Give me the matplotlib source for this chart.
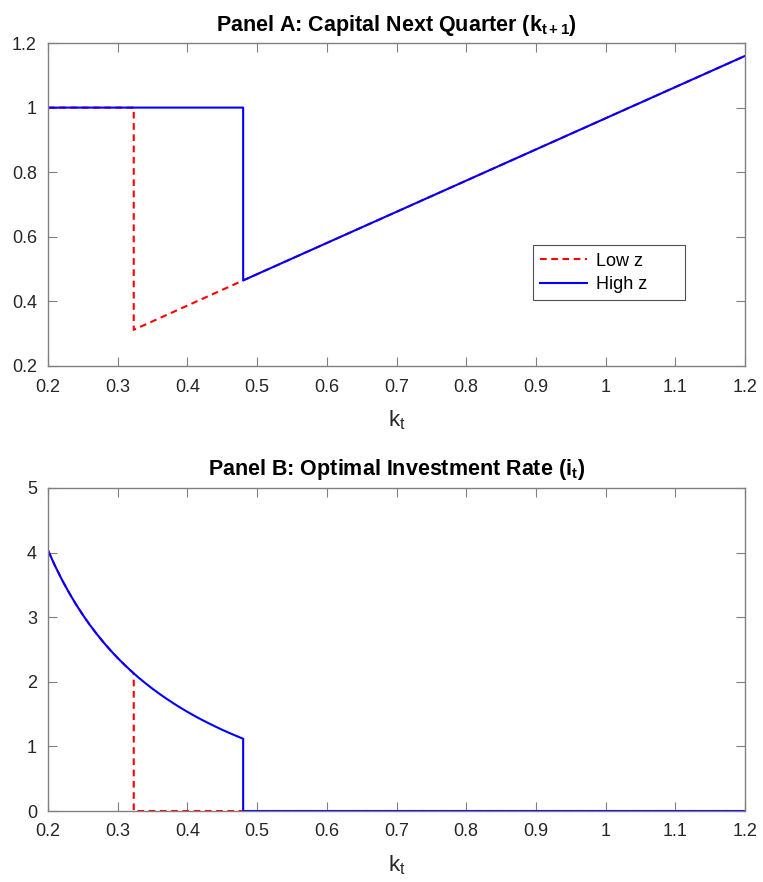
import matplotlib
matplotlib.use("Agg")
import matplotlib.pyplot as plt

plt.rcParams['font.family'] = ['Liberation Sans', 'DejaVu Sans']
plt.rcParams['mathtext.fontset'] = 'custom'
plt.rcParams['mathtext.rm'] = 'Liberation Sans'
plt.rcParams['mathtext.it'] = 'Liberation Sans'
plt.rcParams['mathtext.bf'] = 'Liberation Sans:bold'

# Panel A: next-quarter capital
kA_low = [0.2, 0.323, 0.323, 0.48, 1.2]
kp_low = [1.0, 1.0, 0.312, 0.465, 1.16]
kA_high = [0.2, 0.48, 0.48, 1.2]
kp_high = [1.0, 1.0, 0.465, 1.16]

# Panel B: investment rate
k_curve = [0.20, 0.21, 0.22, 0.23, 0.24, 0.25, 0.26, 0.27, 0.28, 0.29,
           0.30, 0.31, 0.32, 0.323]
i_curve = [4.035, 3.797, 3.580, 3.383, 3.202, 3.035, 2.881, 2.739, 2.606, 2.483,
           2.368, 2.261, 2.160, 2.131]
k_curve_hi = [0.33, 0.34, 0.35, 0.36, 0.37, 0.38, 0.39, 0.40, 0.41, 0.42,
              0.43, 0.44, 0.45, 0.46, 0.47, 0.48]
i_curve_hi = [2.065, 1.976, 1.892, 1.813, 1.738, 1.667, 1.599, 1.535, 1.474, 1.416,
              1.361, 1.308, 1.257, 1.209, 1.163, 1.118]

kB_low = k_curve + [0.323, 1.2]
iB_low = i_curve + [0.0, 0.0]
kB_high = k_curve + k_curve_hi + [0.48, 1.2]
iB_high = i_curve + i_curve_hi + [0.0, 0.0]

xticks = [0.2, 0.3, 0.4, 0.5, 0.6, 0.7, 0.8, 0.9, 1.0, 1.1, 1.2]
xticklabels = ['0.2', '0.3', '0.4', '0.5', '0.6', '0.7', '0.8', '0.9', '1', '1.1', '1.2']
yticksA = [0.2, 0.4, 0.6, 0.8, 1.0, 1.2]
yticklabelsA = ['0.2', '0.4', '0.6', '0.8', '1', '1.2']
yticksB = [0, 1, 2, 3, 4, 5]

W, H = 763, 882
fig = plt.figure(figsize=(W / 100, H / 100), dpi=100)
axA = fig.add_axes([48 / W, 1 - 366 / H, 697 / W, 323 / H])
axB = fig.add_axes([48 / W, 1 - 811 / H, 697 / W, 323 / H])

axcol = '#808080'
txtcol = '#262626'

def style(ax):
    for s in ax.spines.values():
        s.set_color(axcol)
        s.set_linewidth(1.0)
    ax.tick_params(direction='in', top=True, right=True, length=6.5, width=0.8,
                   color=axcol, labelcolor=txtcol, labelsize=13)
    ax.tick_params(axis='x', pad=9)
    ax.tick_params(axis='y', pad=8)
    ax.set_xlim(0.2, 1.2)
    ax.set_xticks(xticks)
    ax.set_xticklabels(xticklabels)
    ax.set_xlabel(r'k$_{\rm t}$', fontsize=16, color=txtcol, labelpad=9)

axA.plot(kA_low, kp_low, color='#ff0000', linestyle=(0, (3.2, 2.2)), linewidth=1.5, label='Low z')
axA.plot(kA_high, kp_high, color='#0000ff', linewidth=1.5, label='High z')
style(axA)
axA.set_ylim(0.2, 1.2)
axA.set_yticks(yticksA)
axA.set_yticklabels(yticklabelsA)
axA.set_title(r'Panel A: Capital Next Quarter (k$_{\mathbf{t+1}}$)', fontsize=15.5,
              fontweight='bold', color='black', pad=9)
leg = axA.legend(loc='lower left', bbox_to_anchor=(0.696, 0.204, 0.218, 0.166),
                 mode='expand', borderaxespad=0, fontsize=13, frameon=True, fancybox=False,
                 edgecolor='#262626', handlelength=2.6, borderpad=0.4,
                 labelspacing=0.35, handletextpad=0.5)
leg.get_frame().set_linewidth(0.8)

axB.plot(kB_low, iB_low, color='#ff0000', linestyle=(0, (3.2, 2.2)), linewidth=1.5)
axB.plot(kB_high, iB_high, color='#0000ff', linewidth=1.5)
style(axB)
axB.set_ylim(0, 5)
axB.set_yticks(yticksB)
axB.set_title(r'Panel B: Optimal Investment Rate (i$_{\mathbf{t}}$)', fontsize=15.5,
              fontweight='bold', color='black', pad=9)

fig.savefig('out.png', dpi=100, facecolor='white')
